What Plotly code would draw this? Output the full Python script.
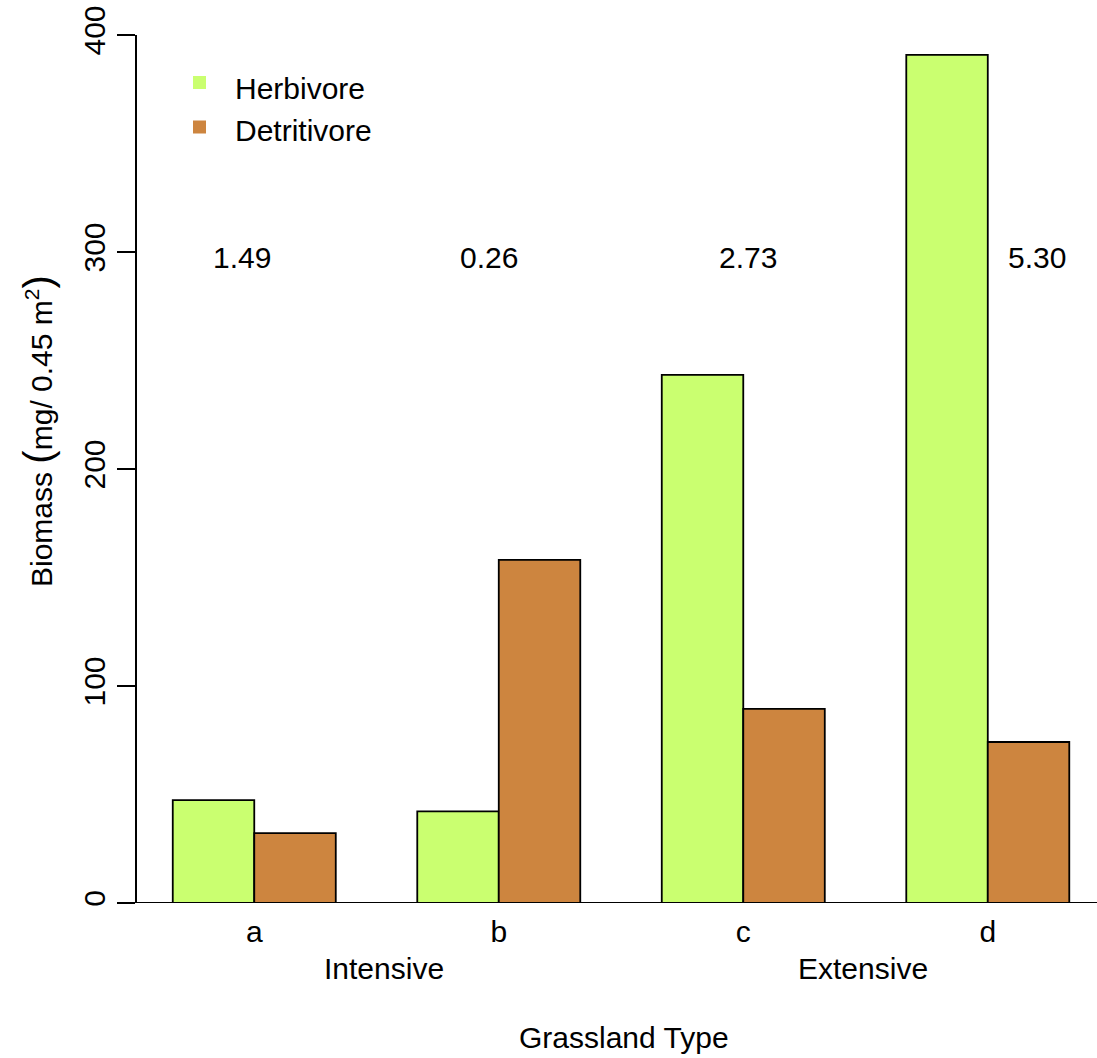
import plotly.graph_objects as go

# Grassland biomass by feeding guild
grassland_types = ["a", "b", "c", "d"]
herbivore = [47.4, 42.2, 243.4, 390.8]
detritivore = [32.2, 158.1, 89.5, 74.2]
ratio_labels = ["1.49", "0.26", "2.73", "5.30"]
ratio_x = [-0.05, 0.96, 2.02, 3.20]
ratio_y = 300
management = ["Intensive", "Extensive"]
management_x = [0.53, 2.49]
y_ticks = [0, 100, 200, 300, 400]

HERB_COL = "#CAFF70"
DET_COL = "#CD853F"
FONT = "Liberation Sans, Arial, sans-serif"
FS = 30

W, H = 1097, 1058
ML, MR, MT, MB = 137, 0, 35, 155
PW, PH = W - ML - MR, H - MT - MB


def px(x):
    return (x - ML) / PW


def py(y):
    return (H - MB - y) / PH


fig = go.Figure()
outline = dict(color="black", width=1.8)
fig.add_trace(go.Bar(x=grassland_types, y=herbivore, name="Herbivore",
                     marker=dict(color=HERB_COL, line=outline), showlegend=False))
fig.add_trace(go.Bar(x=grassland_types, y=detritivore, name="Detritivore",
                     marker=dict(color=DET_COL, line=outline), showlegend=False))

annotations = []
for lab, x in zip(ratio_labels, ratio_x):
    annotations.append(dict(x=x, y=ratio_y, xref="x", yref="y", text=lab,
                            xanchor="center", yanchor="middle", yshift=-5,
                            showarrow=False, font=dict(size=FS, color="black", family=FONT)))
for lab, x in zip(management, management_x):
    annotations.append(dict(x=x, y=py(968), xref="x", yref="paper", text=lab,
                            showarrow=False, xanchor="center", yanchor="middle",
                            font=dict(size=FS, color="black", family=FONT)))
annotations.append(dict(x=px(624), y=py(1037), xref="paper", yref="paper",
                        text="Grassland Type", showarrow=False,
                        xanchor="center", yanchor="middle",
                        font=dict(size=FS, color="black", family=FONT)))
big = "<span style='font-size:40px'>{}</span>"
y_title = ("Biomass " + big.format("(") + "mg/ 0.45 m<sup>2</sup>" + big.format(")"))
annotations.append(dict(x=px(38), y=py(431), xref="paper", yref="paper",
                        text=y_title, textangle=-90,
                        xanchor="center", yanchor="middle",
                        showarrow=False, font=dict(size=FS, color="black", family=FONT)))

# hand-drawn legend
shapes = []
for name, col, cy, ty in [("Herbivore", HERB_COL, 82.5, 88), ("Detritivore", DET_COL, 127, 131)]:
    shapes.append(dict(type="rect", xref="paper", yref="paper",
                       x0=px(193), x1=px(206), y0=py(cy + 6.5), y1=py(cy - 6.5),
                       fillcolor=col, line=dict(width=0)))
    annotations.append(dict(x=px(233), y=py(ty), xref="paper", yref="paper", text=name,
                            xanchor="left", yanchor="middle", showarrow=False,
                            font=dict(size=FS, color="black", family=FONT)))

# baseline at zero across the plotting region
shapes.append(dict(type="line", xref="paper", yref="y", x0=0, x1=1, y0=0, y1=0,
                   line=dict(color="black", width=1.8)))

fig.update_layout(
    width=W, height=H,
    margin=dict(l=ML, r=MR, t=MT, b=MB),
    paper_bgcolor="white", plot_bgcolor="white",
    barmode="group", bargap=1 / 3, bargroupgap=0,
    font=dict(family=FONT, size=FS, color="black"),
    xaxis=dict(range=[-0.4796, 3.4467], showline=False, showgrid=False, zeroline=False,
               ticks="", tickfont=dict(size=FS, color="black", family=FONT),
               ticklabelstandoff=8),
    yaxis=dict(range=[0, 400], tickvals=y_ticks, showgrid=False, zeroline=False,
               showline=True, linecolor="black", linewidth=1.8,
               ticks="outside", ticklen=18, tickwidth=1.8, tickcolor="black",
               tickangle=-90, tickfont=dict(size=FS, color="black", family=FONT),
               ticklabelstandoff=0),
    shapes=shapes,
    annotations=annotations,
)

fig.write_html("out.html")
